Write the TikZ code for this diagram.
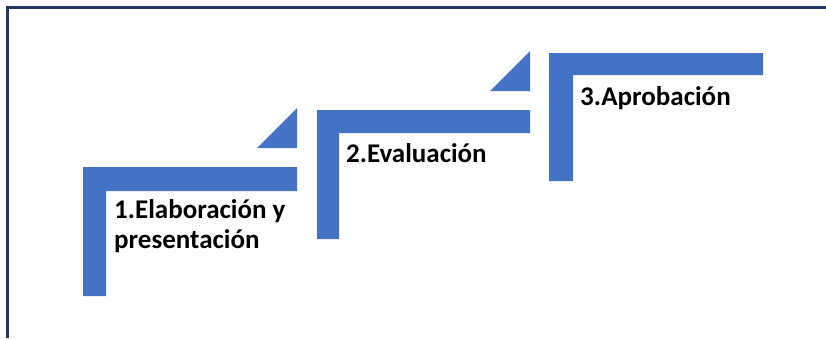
\documentclass[tikz,border=0pt]{standalone}
\usepackage{fontspec}
\setmainfont{Carlito}
\definecolor{stepblue}{HTML}{4472C4}
\definecolor{frameblue}{HTML}{1F3864}
\begin{document}
\begin{tikzpicture}[x=1pt,y=-1pt,
  stepshape/.style={fill=stepblue,draw=none},
  steptext/.style={anchor=base west,inner sep=0pt,font=\fontsize{27}{31}\selectfont\bfseries,text=black},
  frameline/.style={draw=frameblue,line width=2.5pt}]
\useasboundingbox (0,0) rectangle (826,338);
% frame
\coordinate (fa) at (7.3,338);
\coordinate (fb) at (7.3,7.3);
\coordinate (fc) at (826,7.3);
\draw[frameline] (fa) -- (fb) -- (fc);
% step 1
\fill[stepshape] (83,296) -- (83,167) -- (297,167) -- (297,191) -- (106,191) -- (106,296) -- cycle;
\fill[stepshape] (257,148) -- (297,148) -- (297,108) -- cycle;
% step 2
\fill[stepshape] (317,239) -- (317,110) -- (530,110) -- (530,133) -- (339,133) -- (339,239) -- cycle;
\fill[stepshape] (490,91) -- (530,91) -- (530,51) -- cycle;
% step 3
\fill[stepshape] (549,181) -- (549,53) -- (763,53) -- (763,75) -- (573,75) -- (573,181) -- cycle;
% texts
\node[steptext] (t1a) at (114,218) {1.Elaboración y};
\node[steptext] (t1b) at (114,248) {presentación};
\node[steptext] (t2) at (346,162) {2.Evaluación};
\node[steptext] (t3) at (580,105) {3.Aprobación};
\end{tikzpicture}
\end{document}
